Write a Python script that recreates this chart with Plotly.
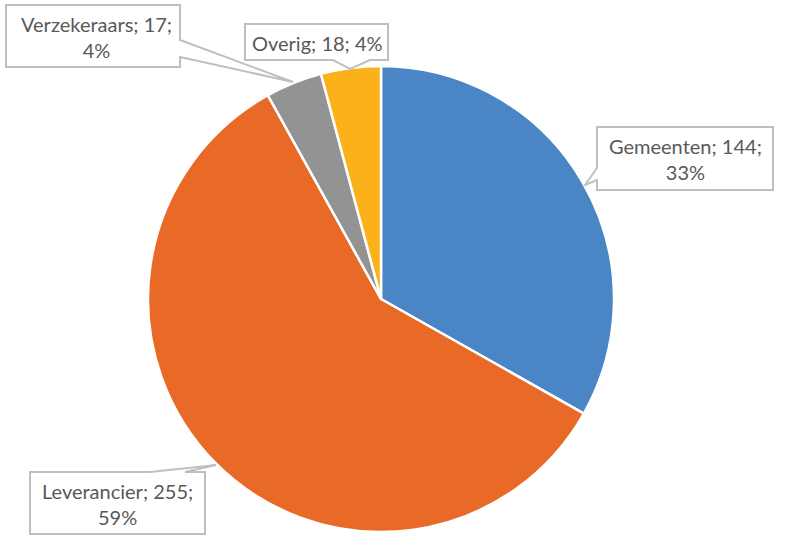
import plotly.graph_objects as go

categories = ["Gemeenten", "Leverancier", "Verzekeraars", "Overig"]
values = [144, 255, 17, 18]
percent_labels = ["33%", "59%", "4%", "4%"]
colors = ["#4A86C6", "#E96A26", "#939393", "#FBB11A"]

W, H = 785, 539

def px(x):
    return x / W

def py(y):
    return 1 - y / H

fig = go.Figure(go.Pie(
    labels=categories,
    values=values,
    sort=False,
    direction="clockwise",
    rotation=0,
    marker=dict(colors=colors, line=dict(color="white", width=2.5)),
    textinfo="none",
    hoverinfo="label+value+percent",
    domain=dict(x=[px(148), px(614)], y=[py(532), py(66)]),
    showlegend=False,
))

def path(points):
    d = "M " + " L ".join(f"{px(x):.5f},{py(y):.5f}" for x, y in points) + " Z"
    return d

callouts = [
    # Verzekeraars
    [(6, 5), (180, 5), (180, 40), (293, 82), (180, 57), (180, 67), (6, 67)],
    # Overig
    [(245, 24), (388, 24), (388, 60), (370, 60), (350, 69), (333, 60), (245, 60)],
    # Gemeenten
    [(597, 127), (773, 127), (773, 190), (597, 190), (597, 180), (585, 185), (597, 168)],
    # Leverancier
    [(30, 472), (150, 472), (216, 465), (185, 472), (205, 472), (205, 534), (30, 534)],
]

shapes = []
for pts in callouts:
    shapes.append(dict(type="path", xref="paper", yref="paper", path=path(pts),
                       fillcolor="white", line=dict(color="#BFBFBF", width=2), layer="above"))

label_texts = [
    (f"{categories[2]}; {values[2]};<br>{percent_labels[2]}", 96, 37),
    (f"{categories[3]}; {values[3]}; {percent_labels[3]}", 317, 43),
    (f"{categories[0]}; {values[0]};<br>{percent_labels[0]}", 685, 159),
    (f"{categories[1]}; {values[1]};<br>{percent_labels[1]}", 117, 504),
]

annotations = []
for text, x, y in label_texts:
    annotations.append(dict(text=text, x=px(x), y=py(y), xref="paper", yref="paper",
                            showarrow=False, xanchor="center", yanchor="middle",
                            align="center", font=dict(family="Lato", size=20, color="#595959")))

fig.update_layout(
    width=W, height=H,
    margin=dict(l=0, r=0, t=0, b=0),
    paper_bgcolor="white",
    plot_bgcolor="white",
    shapes=shapes,
    annotations=annotations,
)

fig.write_html("out.html")
